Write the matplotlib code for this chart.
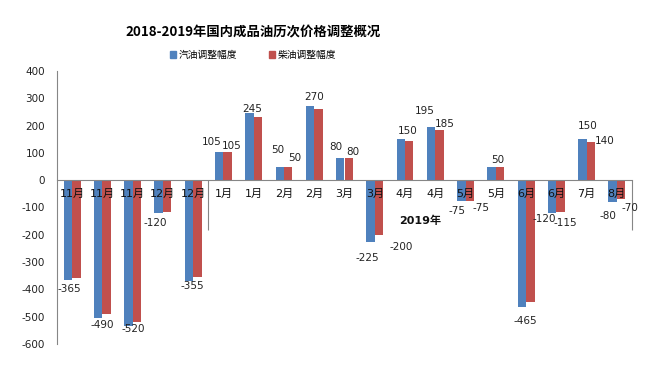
import numpy as np
import matplotlib.pyplot as plt
from matplotlib.patches import Patch

plt.rcParams['font.family'] = ['DejaVu Sans', 'Noto Sans CJK SC']
plt.rcParams['axes.unicode_minus'] = False

title = '2018-2019年国内成品油历次价格调整概况'
series_names = ['汽油调整幅度', '柴油调整幅度']
months = ['11月', '11月', '11月', '12月', '12月', '1月', '1月', '2月', '2月', '3月',
          '3月', '4月', '4月', '5月', '5月', '6月', '6月', '7月', '8月']
gasoline = [-365, -505, -535, -120, -370, 105, 245, 50, 270, 80,
            -225, 150, 195, -75, 50, -465, -120, 150, -80]
diesel = [-360, -490, -520, -115, -355, 105, 230, 50, 260, 80,
          -200, 145, 185, -75, 50, -445, -115, 140, -70]
year_label = '2019年'
year_span = (5, 18)  # first / last category of 2019

# which data labels are visible, with their nudge in pixels (dx, dy)
gas_label_pos = {0: (1, -9), 3: (-3, -10), 5: (-8, 10), 6: (3, 4), 7: (-2, 17),
                 8: (4, 9), 9: (-4, 11), 10: (-3, -16), 11: (7, 8), 12: (-6, 16),
                 13: (-4, -10), 14: (6, 7), 15: (3, -14), 16: (-8, -6),
                 17: (5, 13), 18: (-5, -14)}
dsl_label_pos = {1: (-4, -11), 2: (-4, -7), 4: (-5, -9), 5: (4, 6), 7: (7, 9),
                 9: (4, 6), 10: (22, -12), 12: (5, 6), 13: (11, -7), 16: (5, -11),
                 17: (14, 1), 18: (9, -9)}

BLUE = '#4F81BD'
RED = '#C0504D'
AXIS = '#868686'

fig = plt.figure(figsize=(6.71, 3.89), dpi=100)
ax = fig.add_axes([57 / 671, 45 / 389, 575 / 671, 273 / 389])

x = np.arange(len(months))
w = 0.28
ax.bar(x - w / 2, gasoline, w, color=BLUE, label=series_names[0])
ax.bar(x + w / 2, diesel, w, color=RED, label=series_names[1])

for vals, pos, off in ((gasoline, gas_label_pos, -w / 2), (diesel, dsl_label_pos, w / 2)):
    for i, (dx, dy) in pos.items():
        ax.annotate(f'{vals[i]}', xy=(x[i] + off, vals[i]), xytext=(dx, dy),
                    textcoords='offset pixels', ha='center', va='center',
                    fontsize=7.5, color='#222222')

ax.set_xlim(-0.5, len(months) - 0.5)
ax.set_ylim(-600, 400)
ax.set_yticks(range(-600, 401, 100))
ax.set_xticks(x)
ax.set_xticklabels(months, fontweight='bold')
ax.tick_params(axis='x', length=0, pad=6.5, labelsize=8, labelcolor='#111111')
ax.tick_params(axis='y', length=0, pad=8.5, labelsize=7.5, labelcolor='#222222')

for s in ('top', 'right'):
    ax.spines[s].set_visible(False)
ax.spines['bottom'].set_position(('data', 0))
for s in ('left', 'bottom'):
    ax.spines[s].set_color(AXIS)
    ax.spines[s].set_linewidth(0.8)

# multi-level category axis: group separators and year label
ax.vlines([year_span[0] - 0.5, year_span[1] + 0.5], -183, 0, color=AXIS, lw=0.8, clip_on=False)
ax.annotate(year_label, xy=((year_span[0] + year_span[1]) / 2, 0), xytext=(0, -41),
            textcoords='offset pixels', ha='center', va='center',
            fontsize=8, fontweight='bold', color='#111111')

fig.text(253 / 671, 1 - 32 / 389, title, ha='center', va='center',
         fontsize=9.6, fontweight='bold', family=['Noto Sans CJK SC', 'DejaVu Sans'])

handles = [Patch(color=BLUE), Patch(color=RED)]
fig.legend(handles, series_names, loc='center', bbox_to_anchor=(253 / 671, 1 - 55 / 389),
           ncol=2, frameon=False, handlelength=0.6, handleheight=0.6,
           handletextpad=0.3, columnspacing=3.3,
           prop={'family': 'Noto Sans CJK SC', 'size': 7})

fig.savefig('out.png', dpi=100, facecolor='white')
